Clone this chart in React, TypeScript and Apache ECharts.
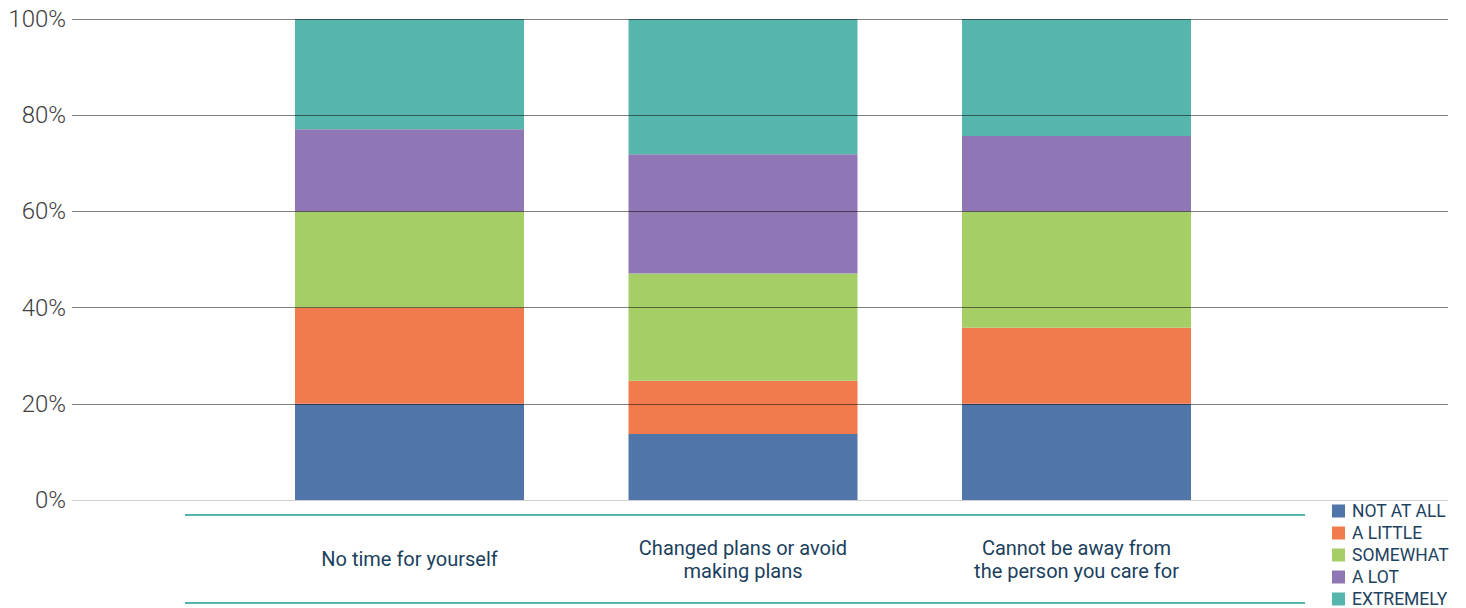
import React, { useEffect, useRef } from "react";
import * as echarts from "echarts";

const categories = [
  "No time for yourself",
  "Changed plans or avoid\nmaking plans",
  "Cannot be away from\nthe person you care for",
];
const seriesNames = ["NOT AT ALL", "A LITTLE", "SOMEWHAT", "A LOT", "EXTREMELY"];
const notAtAll = [20, 13.7, 20];
const aLittle = [20, 11.1, 15.8];
const somewhat = [20, 22.3, 24.2];
const aLot = [17.1, 24.8, 15.7];
const extremely = [22.9, 28.1, 24.3];
const yTicks = [0, 20, 40, 60, 80, 100];

const colors = ["#5075a8", "#f27b4d", "#a5ce66", "#8f77b5", "#56b5ad"];

export default function App() {
  const ref = useRef<HTMLDivElement>(null);
  useEffect(() => {
    if (!ref.current) return;
    const chart = echarts.init(ref.current, null, { renderer: "svg" });
    const values = [notAtAll, aLittle, somewhat, aLot, extremely];
    chart.setOption({
      animation: false,
      backgroundColor: "#ffffff",
      textStyle: { fontFamily: "Roboto" },
      grid: [
        { left: 72, right: 18, top: 19, bottom: 108 },
        { left: 242.75, right: 222.75, top: 19, bottom: 108 },
      ],
      xAxis: [
        { gridIndex: 0, type: "value", show: false, min: 0, max: 1 },
        {
          gridIndex: 1,
          type: "category",
          data: categories,
          axisLine: { show: false },
          axisTick: { show: false },
          axisLabel: {
            fontSize: 20,
            color: "#1b3f5e",
            lineHeight: 23,
            verticalAlign: "middle",
            margin: 59,
            fontFamily: "Roboto",
          },
        },
      ],
      yAxis: [
        {
          gridIndex: 0,
          type: "value",
          min: yTicks[0],
          max: yTicks[yTicks.length - 1],
          interval: 20,
          z: 5,
          axisLine: { show: false },
          axisTick: { show: false },
          axisLabel: {
            formatter: "{value}%",
            fontSize: 24,
            fontWeight: 300,
            color: "#404040",
            margin: 6,
            fontFamily: "Roboto",
          },
          splitLine: {
            lineStyle: {
              color: [
                "#d0d0d0",
                "rgba(0,0,0,0.5)",
                "rgba(0,0,0,0.5)",
                "rgba(0,0,0,0.5)",
                "rgba(0,0,0,0.5)",
                "rgba(0,0,0,0.5)",
              ],
              width: 1,
            },
          },
        },
        { gridIndex: 1, type: "value", min: 0, max: 100, show: false },
      ],
      legend: {
        orient: "vertical",
        left: 1332,
        top: 502,
        height: 140,
        padding: 0,
        icon: "rect",
        itemWidth: 13,
        itemHeight: 13,
        itemGap: 4,
        data: seriesNames,
        textStyle: {
          fontSize: 17.5,
          lineHeight: 16,
          color: "#1d4260",
          fontFamily: "Roboto",
          padding: [0, 0, 0, 2],
        },
      },
      graphic: [
        {
          type: "line",
          shape: { x1: 185, y1: 515, x2: 1305, y2: 515 },
          style: { stroke: "#56b5ad", lineWidth: 2 },
        },
        {
          type: "line",
          shape: { x1: 185, y1: 603, x2: 1305, y2: 603 },
          style: { stroke: "#56b5ad", lineWidth: 2 },
        },
      ],
      series: seriesNames.map((name, i) => ({
        name,
        type: "bar",
        stack: "total",
        xAxisIndex: 1,
        yAxisIndex: 1,
        barWidth: 229,
        itemStyle: { color: colors[i] },
        data: values[i],
      })),
    });
    return () => chart.dispose();
  }, []);
  return (
    <div
      ref={ref}
      style={{ position: "fixed", left: 0, top: 0, width: 1466, height: 608 }}
    />
  );
}
